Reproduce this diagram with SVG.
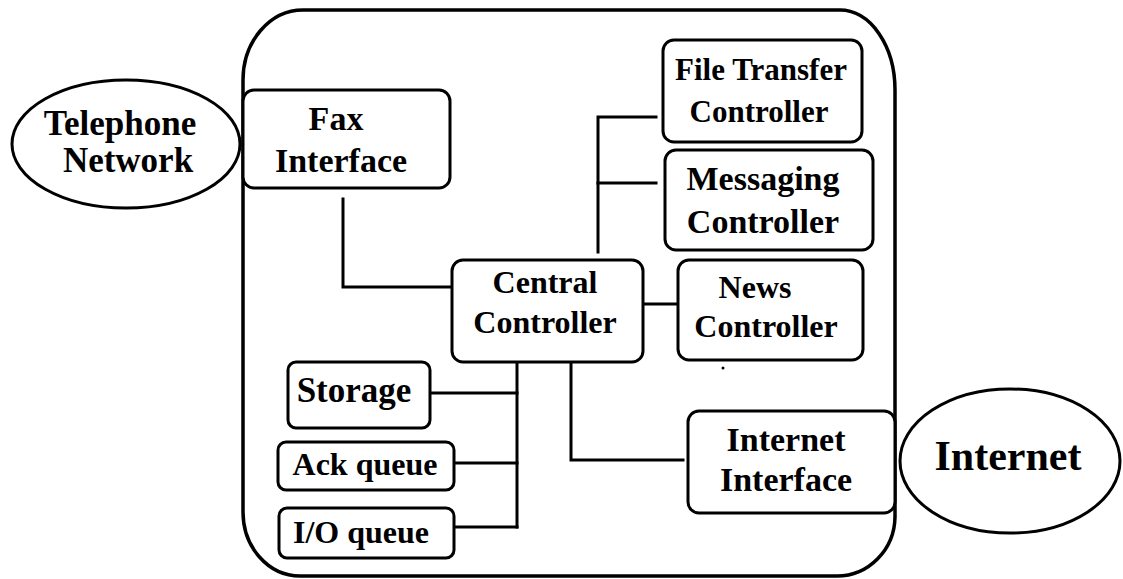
<svg xmlns="http://www.w3.org/2000/svg" width="1123" height="579" viewBox="0 0 1123 579">
  <style>
    .box { fill: #fff; stroke: #000; stroke-width: 3; }
    .oval { fill: #fff; stroke: #000; stroke-width: 3; }
    .frame { fill: none; stroke: #000; stroke-width: 3.5; }
    .wire { fill: none; stroke: #000; stroke-width: 3; stroke-linecap: square; }
    text { font-family: "Liberation Serif", "Times New Roman", serif; font-weight: bold; fill: #000; text-anchor: middle; }
  </style>
  <rect width="1123" height="579" fill="#fff"/>

  <!-- system boundary -->
  <path class="frame" d="M303,10 H840 A55,80 0 0 1 895,90 V517 A58,60 0 0 1 837,576 H300 A57,64 0 0 1 243,512 V80 A60,70 0 0 1 303,10 Z"/>

  <!-- connectors -->
  <g id="connectors">
    <polyline class="wire" points="343,199 343,287 451,287"/>
    <polyline class="wire" points="598,252 598,117 656,117"/>
    <line class="wire" x1="598" y1="183" x2="656" y2="183"/>
    <line class="wire" x1="644" y1="304" x2="677" y2="304"/>
    <line class="wire" x1="517" y1="363" x2="517" y2="527"/>
    <line class="wire" x1="431" y1="393" x2="517" y2="393"/>
    <line class="wire" x1="455" y1="463" x2="517" y2="463"/>
    <line class="wire" x1="455" y1="527" x2="517" y2="527"/>
    <polyline class="wire" points="571,363 571,460 683,460"/>
  </g>

  <g id="telephone-network">
    <ellipse class="oval" cx="126" cy="144" rx="114" ry="64"/>
    <text x="120" y="135" font-size="35">Telephone</text>
    <text x="128" y="172" font-size="35">Network</text>
  </g>

  <g id="fax-interface">
    <rect class="box" x="243" y="90" width="207" height="98" rx="11"/>
    <text x="336" y="130" font-size="34">Fax</text>
    <text x="341" y="172" font-size="34">Interface</text>
  </g>

  <g id="central-controller">
    <rect class="box" x="452" y="260" width="191" height="102" rx="11"/>
    <text x="545" y="293" font-size="32">Central</text>
    <text x="545" y="333" font-size="32">Controller</text>
  </g>

  <g id="file-transfer-controller">
    <rect class="box" x="663" y="40" width="199" height="102" rx="11"/>
    <text x="761" y="80" font-size="31">File Transfer</text>
    <text x="759" y="122" font-size="31">Controller</text>
  </g>

  <g id="messaging-controller">
    <rect class="box" x="665" y="150" width="208" height="100" rx="11"/>
    <text x="763" y="190" font-size="34">Messaging</text>
    <text x="763" y="233" font-size="34">Controller</text>
  </g>

  <g id="news-controller">
    <rect class="box" x="678" y="260" width="185" height="100" rx="11"/>
    <text x="755" y="298" font-size="32">News</text>
    <text x="766" y="337" font-size="32">Controller</text>
  </g>

  <g id="internet-interface">
    <rect class="box" x="688" y="411" width="207" height="102" rx="11"/>
    <text x="786" y="451" font-size="34">Internet</text>
    <text x="786" y="491" font-size="34">Interface</text>
  </g>

  <g id="internet">
    <ellipse class="oval" cx="1010" cy="461" rx="110" ry="72"/>
    <text x="1008" y="470" font-size="42">Internet</text>
  </g>

  <g id="storage">
    <rect class="box" x="288" y="362" width="142" height="66" rx="8"/>
    <text x="354" y="402" font-size="35">Storage</text>
  </g>

  <g id="ack-queue">
    <rect class="box" x="278" y="442" width="176" height="48" rx="8"/>
    <text x="365" y="475" font-size="32">Ack queue</text>
  </g>

  <g id="io-queue">
    <rect class="box" x="279" y="508" width="175" height="50" rx="8"/>
    <text x="361" y="543" font-size="32">I/O queue</text>
  </g>

  <!-- small speck below the news box -->
  <circle cx="723" cy="368" r="1.5" fill="#000"/>
</svg>
